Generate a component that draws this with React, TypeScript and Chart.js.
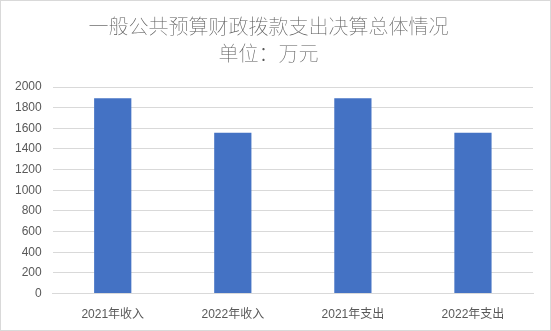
import React, { useEffect, useRef } from "react";
import { Chart, registerables } from "chart.js";

Chart.register(...registerables);

const categories = ["2021年收入", "2022年收入", "2021年支出", "2022年支出"];
const values = [1890, 1558, 1890, 1558];
const titleLines = ["一般公共预算财政拨款支出决算总体情况", "单位：万元"];

export default function App() {
  const ref = useRef<HTMLCanvasElement | null>(null);
  useEffect(() => {
    document.body.style.margin = "0";
    const chart = new Chart(ref.current!, {
      type: "bar",
      data: {
        labels: categories,
        datasets: [
          {
            data: values,
            backgroundColor: "#4472C4",
            categoryPercentage: 1,
            barPercentage: 0.31,
          },
        ],
      },
      options: {
        animation: false,
        responsive: false,
        layout: { padding: { left: 3, right: 17, bottom: 1, top: 0 } },
        plugins: {
          legend: { display: false },
          tooltip: { enabled: false },
          title: {
            display: true,
            text: titleLines,
            color: "#595959",
            font: { family: "'Noto Sans CJK SC', serif", size: 20, weight: "lighter", lineHeight: 1.35 },
            padding: { top: 12, bottom: 20 },
          },
        },
        scales: {
          x: {
            grid: { display: false, drawTicks: false },
            border: { color: "#d9d9d9", width: 1 },
            ticks: {
              color: "#595959",
              font: { family: "'Liberation Sans', 'Noto Sans CJK SC', sans-serif", size: 12 },
              padding: 14,
            },
            afterFit: (s: any) => {
              s.height -= 7;
            },
          },
          y: {
            min: 0,
            max: 2000,
            ticks: {
              stepSize: 200,
              color: "#595959",
              font: { family: "'Liberation Sans', sans-serif", size: 12 },
              padding: 11,
              callback: (v: any) => String(v),
            },
            grid: { color: "#d9d9d9", drawTicks: false },
            border: { display: false },
          },
        },
      },
    });
    return () => chart.destroy();
  }, []);
  return (
    <div style={{ position: "fixed", left: 0, top: 0, width: 551, height: 331, boxSizing: "border-box", border: "1px solid #d9d9d9", background: "#fff" }}>
      <canvas ref={ref} width={549} height={329} style={{ display: "block" }} />
    </div>
  );
}
